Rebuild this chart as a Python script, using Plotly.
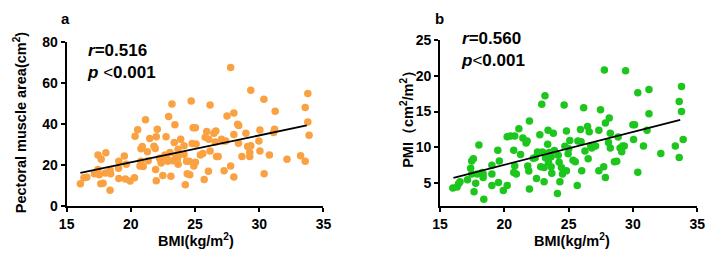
import plotly.graph_objects as go

# ---------------- data ----------------
bmi_a = [16.07,16.35,16.57,17.44,17.16,17.44,17.54,17.69,17.66,17.84,
         18.05,18.02,18.38,18.38,18.43,19.04,19.06,19.06,19.49,19.57,
         19.64,19.95,20.28,20.33,20.53,20.79,20.79,20.89,20.71,20.96,
         21.14,21.29,21.35,21.47,21.80,21.90,21.98,22.06,21.93,21.98,
         22.23,22.36,22.49,22.56,22.66,22.74,22.87,22.94,23.05,23.12,
         23.20,23.25,23.38,23.43,23.63,23.68,23.68,23.88,24.14,24.14,
         24.24,24.34,24.39,24.54,24.59,24.70,24.77,24.85,25.03,24.90,
         25.03,25.08,25.41,25.61,25.71,25.79,25.91,26.04,26.17,26.17,
         26.07,26.47,26.62,26.57,26.67,26.80,27.06,27.18,27.26,27.39,
         27.49,27.77,27.77,28.02,28.02,28.02,28.32,28.40,28.38,28.65,
         28.96,29.09,29.26,29.26,29.34,29.34,29.97,30.05,30.05,30.36,
         30.38,30.79,31.12,31.19,31.24,32.16,33.22,33.58,33.58,33.78,
         33.78,33.88,22.36,22.79,23.50,23.76,22.36]
pma_a = [10.7,13.6,13.9,24.7,15.6,17.7,15.1,22.7,10.7,11.0,
         25.8,16.0,7.6,17.4,15.6,18.3,21.7,13.3,24.3,13.0,
         20.2,12.1,13.7,33.9,37.1,21.7,27.8,28.9,19.4,19.1,
         42.0,26.3,22.0,32.8,29.0,27.9,33.7,37.3,17.7,12.2,
         23.2,21.7,14.8,22.4,24.7,33.6,21.7,43.5,26.0,14.4,
         49.6,22.0,30.8,39.5,22.9,27.5,20.2,32.4,29.3,25.0,
         10.2,21.7,15.6,21.7,15.1,51.1,30.4,38.0,38.0,19.4,
         21.2,30.1,24.7,25.5,12.8,33.4,36.2,16.8,49.2,26.7,
         32.4,35.4,36.5,31.1,24.0,24.0,32.4,31.6,17.1,31.6,
         43.8,67.5,19.4,45.3,34.7,14.0,39.7,39.2,30.5,24.0,
         35.4,28.9,26.0,24.0,56.3,29.3,31.6,37.0,26.7,51.9,
         15.6,24.7,35.7,37.3,46.1,22.7,24.4,47.9,21.7,54.8,
         40.8,34.4,23.2,23.5,23.5,25.0,20.9]
fit_a_x = [16.07, 33.7]
fit_a_y = [16.0, 39.2]

bmi_b = [15.99,16.32,16.44,16.55,17.13,17.38,17.46,17.59,17.46,17.64,
         17.77,17.89,18.02,18.35,18.35,18.40,18.27,19.03,19.03,19.03,
         19.49,19.61,19.54,19.92,20.22,20.22,20.48,20.81,20.73,20.81,
         20.73,20.93,21.13,21.26,21.44,21.69,21.77,21.82,21.90,21.95,
         21.95,
         22.25,22.40,22.58,22.50,22.76,22.83,22.96,22.91,23.09,23.16,
         23.09,23.20,23.37,23.40,23.43,23.48,23.64,23.69,23.81,23.89,
         23.64,24.19,24.26,24.13,24.32,24.44,24.52,24.65,24.71,24.83,
         24.83,24.96,25.09,25.01,25.34,25.52,25.67,25.72,25.92,25.97,
         26.02,26.17,26.27,26.47,26.60,26.52,26.72,26.80,27.10,27.35,
         27.48,27.35,27.86,27.86,27.73,28.16,28.24,28.24,28.56,28.10,
         27.78,
         29.43,30.38,31.25,33.78,33.60,33.78,31.25,30.00,30.13,31.10,
         28.85,30.05,33.91,29.00,29.20,29.33,29.13,30.82,32.17,33.30,
         33.60,28.74,30.38]
pmi_b = [4.35,4.48,4.92,5.2,5.5,7.1,8.1,8.4,6.3,3.8,
         5.0,6.3,10.35,6.3,5.8,2.77,6.5,7.5,6.3,4.7,
         9.6,8.1,5.1,4.0,4.7,11.5,11.6,11.6,9.6,7.4,
         6.5,6.3,12.6,9.0,11.3,10.6,10.9,7.4,6.7,13.7,
         4.2,
         8.49,8.55,9.37,5.65,11.76,7.31,9.37,16.03,7.2,17.2,
         5.2,8.55,10.45,12.41,7.93,9.3,8.7,6.4,11.98,9.58,
         7.3,8.92,7.93,3.56,5.2,7.18,6.3,15.9,10.15,12.28,
         6.75,9.1,10.97,9.8,8.2,8.0,4.7,10.9,12.5,10.8,
         6.75,15.55,9.5,12.9,12.2,8.4,10.2,9.9,10.2,6.75,
         15.25,12.4,13.4,5.8,7.3,14.1,11.98,9.9,8.0,10.7,
         20.8,
         20.7,17.64,18.07,18.5,16.4,15.0,14.7,13.15,13.15,12.4,
         11.45,11.1,11.1,9.9,10.2,10.2,9.4,10.2,9.14,10.2,
         8.6,8.06,6.53]
fit_b_x = [16.04, 33.68]
fit_b_y = [5.75, 13.85]

x_ticks = [15, 20, 25, 30, 35]
ya_ticks = [0, 20, 40, 60, 80]
yb_ticks = [5, 10, 15, 20, 25]

# ---------------- figure ----------------
W, H = 713, 260
FONT = "Liberation Sans, Arial, sans-serif"
ORANGE = "rgb(250,162,66)"
GREEN = "rgb(28,198,28)"

def px(x):
    return x / W

def py(y):
    return 1 - y / H

fig = go.Figure()
fig.add_trace(go.Scatter(x=bmi_a, y=pma_a, mode="markers",
                         marker=dict(color=ORANGE, size=7.5, line=dict(width=0)),
                         xaxis="x", yaxis="y", showlegend=False))
fig.add_trace(go.Scatter(x=fit_a_x, y=fit_a_y, mode="lines",
                         line=dict(color="black", width=1.8),
                         xaxis="x", yaxis="y", showlegend=False))
fig.add_trace(go.Scatter(x=bmi_b, y=pmi_b, mode="markers",
                         marker=dict(color=GREEN, size=7.5, line=dict(width=0)),
                         xaxis="x2", yaxis="y2", showlegend=False))
fig.add_trace(go.Scatter(x=fit_b_x, y=fit_b_y, mode="lines",
                         line=dict(color="black", width=1.8),
                         xaxis="x2", yaxis="y2", showlegend=False))

axis_common = dict(showgrid=False, zeroline=False, showline=True,
                   linecolor="black", linewidth=2, ticks="outside",
                   ticklen=4, tickwidth=2, tickcolor="black",
                   tickfont=dict(family=FONT, size=14, color="black", weight="bold"),
                   fixedrange=True)

fig.update_layout(
    width=W, height=H,
    margin=dict(l=0, r=0, t=0, b=0),
    paper_bgcolor="white", plot_bgcolor="white",
    xaxis=dict(domain=[px(60), px(322.7)], range=[15, 35], tickvals=x_ticks,
               anchor="y", **axis_common),
    yaxis=dict(domain=[py(210.7), py(36)], range=[0, 80], tickvals=ya_ticks,
               anchor="x", **axis_common),
    xaxis2=dict(domain=[px(442), px(705)], range=[15, 35], tickvals=x_ticks,
                anchor="y2", **axis_common),
    yaxis2=dict(domain=[py(210.7), py(34)], range=[1.86, 25], tickvals=yb_ticks,
                anchor="x2", **axis_common),
)

def ann(text, x, y, size, xanchor="center", yanchor="middle", angle=0, bold=True):
    fig.add_annotation(text=text, x=px(x), y=py(y), xref="paper", yref="paper",
                       showarrow=False, xanchor=xanchor, yanchor=yanchor,
                       textangle=angle, align="left",
                       font=dict(family=FONT, size=size, color="black",
                                 weight="bold" if bold else "normal"))

# panel letters
ann("a", 59, 11, 15)
ann("b", 441, 11, 15)

# stats (two lines in one text block)
ann("<i>r</i>=0.516<br><i>p</i> <span style='font-weight:normal'>&lt;</span>0.001",
    79, 57.5, 17, xanchor="left")
ann("<i>r</i>=0.560<br><i>p</i><span style='font-weight:normal'>&lt;</span>0.001",
    461, 44.5, 17, xanchor="left")

# axis titles
ann("BMI(kg/m<sup>2</sup>)", 192, 247, 14.5)
ann("BMI(kg/m<sup>2</sup>)", 577, 247, 14.5)
ann("Pectoral muscle area(cm<sup>2</sup>)", 13, 122, 14.5, angle=-90)
ann("PMI（cm<sup>2</sup>/m<sup>2</sup>）", 408, 114, 14.5, angle=-90)

fig.write_html("out.html")
